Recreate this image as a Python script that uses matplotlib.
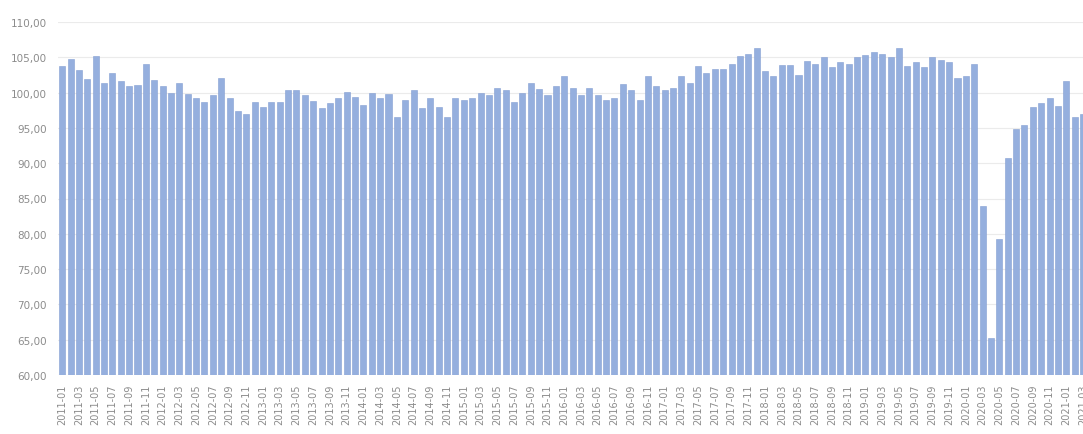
import matplotlib.pyplot as plt
from matplotlib.ticker import FuncFormatter, MultipleLocator

# monthly index values, 2011-01 .. 2021-03
values = [
    103.7, 104.7, 103.2, 101.9, 105.2, 101.3, 102.8, 101.7, 100.9, 101.1, 104.0, 101.8,  # 2011
    101.0, 99.9, 101.4, 99.8, 99.3, 98.6, 99.7, 102.0, 99.3, 97.4, 97.0, 98.6,         # 2012
    97.9, 98.6, 98.6, 100.4, 100.3, 99.6, 98.8, 97.8, 98.5, 99.3, 100.1, 99.4,         # 2013
    98.3, 100.0, 99.3, 99.8, 96.5, 98.9, 100.4, 97.8, 99.2, 98.0, 96.6, 99.2,          # 2014
    98.9, 99.2, 99.9, 99.7, 100.6, 100.3, 98.7, 99.9, 101.3, 100.5, 99.7, 101.0,       # 2015
    102.3, 100.6, 99.6, 100.6, 99.7, 98.9, 99.3, 101.2, 100.4, 98.9, 102.4, 100.9,     # 2016
    100.4, 100.7, 102.4, 101.3, 103.7, 102.8, 103.3, 103.3, 104.0, 105.2, 105.5, 106.3,  # 2017
    103.1, 102.3, 103.9, 103.9, 102.5, 104.5, 104.0, 105.0, 103.6, 104.4, 104.0, 105.1,  # 2018
    105.3, 105.7, 105.5, 105.0, 106.3, 103.8, 104.4, 103.6, 105.0, 104.6, 104.3, 102.0,  # 2019
    102.4, 104.0, 83.9, 65.2, 79.3, 90.8, 94.9, 95.4, 97.9, 98.5, 99.2, 98.1,          # 2020
    101.7, 96.6, 97.0,                                                                  # 2021
]

months = []
for y in range(2011, 2022):
    for m in range(1, 13):
        months.append(f"{y}-{m:02d}")
months = months[:len(values)]

fig = plt.figure(figsize=(10.83, 4.35), dpi=100)
ax = fig.add_axes([58 / 1083, 1 - 376 / 435, 1 - 58 / 1083, (376 - 23) / 435])

x = list(range(len(values)))
ax.bar(x, values, width=0.72, color="#95AFDE", edgecolor="#849FD2", linewidth=0.4,
       zorder=2)

ax.set_ylim(60, 110)
ax.set_xlim(-0.5, 121.84)
ax.yaxis.set_major_locator(MultipleLocator(5))
ax.yaxis.set_major_formatter(FuncFormatter(lambda v, p: f"{v:.2f}".replace(".", ",")))
ax.grid(axis="y", color="#EBEBEB", linewidth=0.8, zorder=0)

ax.set_xticks(x[::2])
ax.set_xticklabels(months[::2], rotation=90, fontsize=7, color="#8C8C8C")
ax.tick_params(axis="y", labelsize=7.5, colors="#8C8C8C", length=0, pad=8)
ax.tick_params(axis="x", length=0, pad=6)

for s in ax.spines.values():
    s.set_visible(False)

fig.savefig("out.png", dpi=100)
